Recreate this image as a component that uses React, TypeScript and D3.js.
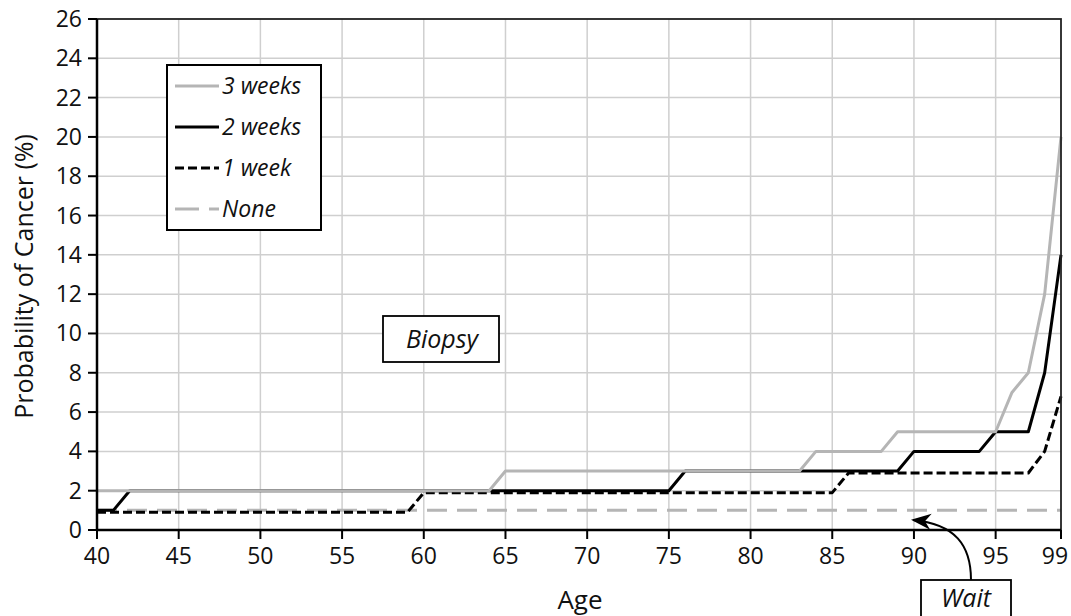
import React from "react";
import * as d3 from "d3";

const xTicks = [40, 45, 50, 55, 60, 65, 70, 75, 80, 85, 90, 95, 99];
const yTicks = [0, 2, 4, 6, 8, 10, 12, 14, 16, 18, 20, 22, 24, 26];

const threeWeeksAges = [40, 64, 65, 83, 84, 88, 89, 95, 96, 97, 98, 99];
const threeWeeksVals = [2, 2, 3, 3, 4, 4, 5, 5, 7, 8, 12, 20];
const twoWeeksAges = [40, 41, 42, 75, 76, 89, 90, 94, 95, 97, 98, 99];
const twoWeeksVals = [1, 1, 2, 2, 3, 3, 4, 4, 5, 5, 8, 14];
const oneWeekAges = [40, 59, 60, 85, 86, 97, 98, 99];
const oneWeekVals = [0.9, 0.9, 1.9, 1.9, 2.9, 2.9, 4, 6.8];
const noneAges = [40, 99];
const noneVals = [1, 1];

const seriesNames = ["3 weeks", "2 weeks", "1 week", "None"];

const FONT = "'Open Sans', 'DejaVu Sans', sans-serif";

export default function App() {
  const W = 1071, H = 616;
  const x = d3.scaleLinear().domain([40, 99]).range([97, 1061]);
  const y = d3.scaleLinear().domain([0, 26]).range([530, 19]);
  const line = d3.line<[number, number]>().x(d => x(d[0])).y(d => y(d[1]));
  const pts = (a: number[], v: number[]) => a.map((age, i) => [age, v[i]] as [number, number]);

  const series = [
    { name: seriesNames[3], d: pts(noneAges, noneVals), stroke: "#b5b5b5", dash: "20,10", w: 3 },
    { name: seriesNames[2], d: pts(oneWeekAges, oneWeekVals), stroke: "#000", dash: "9,4", w: 3 },
    { name: seriesNames[1], d: pts(twoWeeksAges, twoWeeksVals), stroke: "#000", dash: undefined, w: 3 },
    { name: seriesNames[0], d: pts(threeWeeksAges, threeWeeksVals), stroke: "#b5b5b5", dash: undefined, w: 3 },
  ];
  const legendItems = [series[3], series[2], series[1], series[0]];

  const x0 = x(40), x1 = x(99), y0 = y(0), y1 = y(26);

  return (
    <svg width={W} height={H} style={{ position: "absolute", left: 0, top: 0, background: "#fff" }} fontFamily={FONT}>
      <defs>
        <marker id="ah" viewBox="0 0 10 10" refX="9" refY="5" markerWidth="10" markerHeight="10" orient="auto">
          <path d="M0,1 L10,5 L0,9 L3,5 Z" fill="#000" />
        </marker>
      </defs>
      {/* grid */}
      {xTicks.filter(t => t !== 40 && t !== 99).map(t => (
        <line key={"gx" + t} x1={x(t)} x2={x(t)} y1={y1} y2={y0} stroke="#cfcfcf" strokeWidth={1.5} />
      ))}
      {yTicks.filter(t => t !== 0 && t !== 26).map(t => (
        <line key={"gy" + t} x1={x0} x2={x1} y1={y(t)} y2={y(t)} stroke="#cfcfcf" strokeWidth={1.5} />
      ))}
      {/* series */}
      {series.map(s => (
        <path key={s.name} d={line(s.d) || ""} fill="none" stroke={s.stroke} strokeWidth={s.w}
          strokeDasharray={s.dash} strokeLinejoin="round" />
      ))}
      {/* frame */}
      <rect x={x0} y={y1} width={x1 - x0} height={y0 - y1} fill="none" stroke="#222" strokeWidth={1.8} />
      <line x1={x0} x2={x0} y1={y1} y2={y0} stroke="#000" strokeWidth={2.5} />
      <line x1={x0} x2={x1} y1={y0} y2={y0} stroke="#000" strokeWidth={2.5} />
      {/* ticks */}
      {xTicks.map(t => (
        <g key={"tx" + t}>
          <line x1={x(t)} x2={x(t)} y1={y0} y2={y0 + 9} stroke="#000" strokeWidth={2} />
          <text x={Math.min(x(t), W - 16)} y={y0 + 34} textAnchor="middle" fontSize={23} fill="#111">{t}</text>
        </g>
      ))}
      {yTicks.map(t => (
        <g key={"ty" + t}>
          <line x1={x0 - 9} x2={x0} y1={y(t)} y2={y(t)} stroke="#000" strokeWidth={2} />
          <text x={x0 - 15} y={y(t) + 8} textAnchor="end" fontSize={23} fill="#111">{t}</text>
        </g>
      ))}
      {/* axis titles */}
      <text x={(x0 + x1) / 2 + 1} y={609} textAnchor="middle" fontSize={26} fill="#111">Age</text>
      <text transform={`translate(33,${(y0 + y1) / 2 + 2}) rotate(-90)`} textAnchor="middle" fontSize={25} fill="#111">
        Probability of Cancer (%)
      </text>
      {/* legend */}
      <rect x={167} y={65} width={154} height={165} fill="#fff" stroke="#000" strokeWidth={2} />
      {legendItems.map((s, i) => {
        const cy = 86 + i * 41;
        return (
          <g key={"lg" + s.name}>
            <line x1={175} x2={219} y1={cy} y2={cy} stroke={s.stroke} strokeWidth={3} strokeDasharray={s.name === "None" ? "24,10" : s.dash} />
            <text x={222} y={cy + 8} fontSize={23} fontStyle="italic" fill="#111">{s.name}</text>
          </g>
        );
      })}
      {/* Biopsy */}
      <rect x={383} y={316} width={116} height={46} fill="#fff" stroke="#000" strokeWidth={1.8} />
      <text x={442} y={348} textAnchor="middle" fontSize={25} fontStyle="italic" fill="#111">Biopsy</text>
      {/* Wait */}
      <path d="M971,580 C971,545 955,524 913,520" fill="none" stroke="#000" strokeWidth={2} markerEnd="url(#ah)" />
      <rect x={921} y={580} width={90} height={44} fill="#fff" stroke="#000" strokeWidth={1.8} />
      <text x={966} y={607} textAnchor="middle" fontSize={25} fontStyle="italic" fill="#111">Wait</text>
    </svg>
  );
}
